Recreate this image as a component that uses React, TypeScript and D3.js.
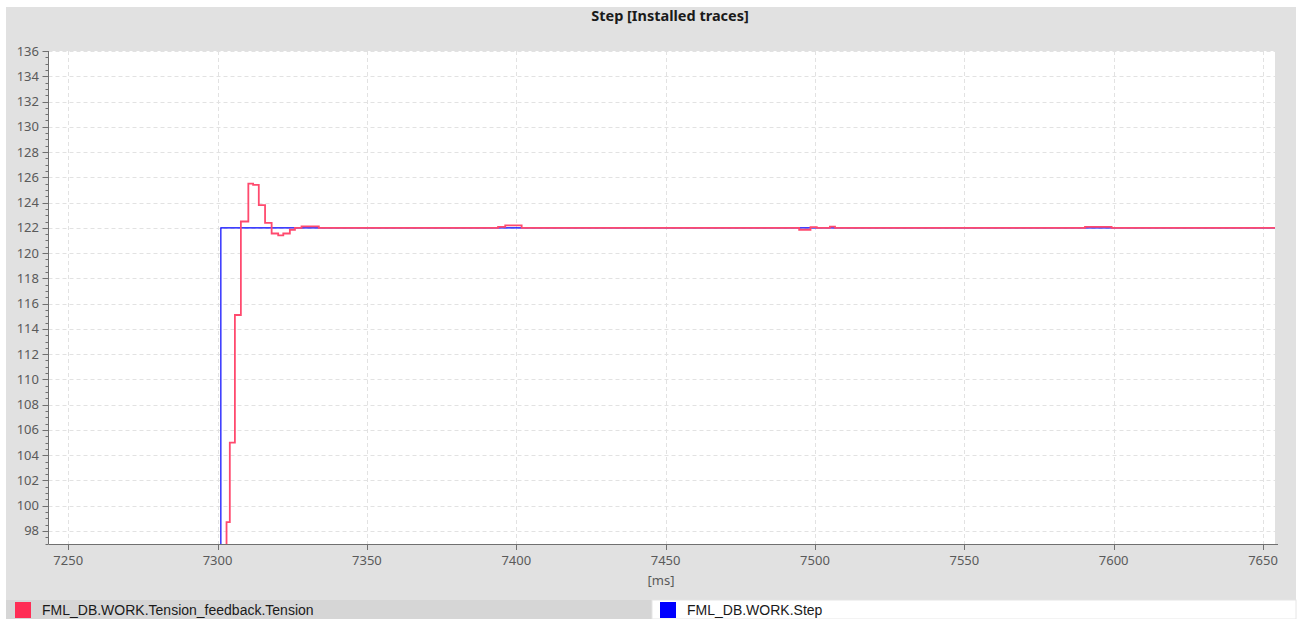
import React from "react";
import * as d3 from "d3";

const W = 1304;
const H = 619;

const title = "Step [Installed traces]";
const xAxisLabel = "[ms]";
const xDomain = [7243.4, 7654];
const yDomain = [96.97, 136];
const xTicks = [7250, 7300, 7350, 7400, 7450, 7500, 7550, 7600, 7650];
const yTicks = [98, 100, 102, 104, 106, 108, 110, 112, 114, 116, 118, 120, 122, 124, 126, 128, 130, 132, 134, 136];

const seriesNames = ["FML_DB.WORK.Tension_feedback.Tension", "FML_DB.WORK.Step"];
const seriesColors = ["#ff2d55", "#0000ff"];

// Tension feedback (step-after samples: [time ms, value])
const tensionTimes = [7243.4, 7303.0, 7304.1, 7305.8, 7307.8, 7310.3, 7311.9, 7313.8, 7315.9, 7318.1, 7320.3, 7322.0, 7324.2, 7325.9, 7328.1, 7333.9, 7393.9, 7396.3, 7401.8, 7494.7, 7498.5, 7500.6, 7505.0, 7506.7, 7590.4, 7599.3, 7654];
const tensionValues = [0, 98.7, 105.0, 115.1, 122.5, 125.5, 125.4, 123.8, 122.4, 121.55, 121.4, 121.55, 121.85, 122.0, 122.12, 122.0, 122.07, 122.2, 122.0, 121.85, 122.05, 122.0, 122.1, 122.0, 122.08, 122.0, 122.0];

// Step setpoint
const stepTimes = [7243.4, 7301.1, 7654];
const stepValues = [0, 122, 122];

const M = { left: 48.5, right: 1275, top: 51, bottom: 544 };

export default function App() {
  const x = d3.scaleLinear().domain(xDomain).range([M.left, M.right]);
  const y = d3.scaleLinear().domain(yDomain).range([M.bottom, M.top]);
  const line = d3
    .line<[number, number]>()
    .x((d) => x(d[0]))
    .y((d) => y(d[1]))
    .curve(d3.curveStepAfter);

  const tension: [number, number][] = tensionTimes.map((t, i) => [t, tensionValues[i]]);
  const step: [number, number][] = stepTimes.map((t, i) => [t, stepValues[i]]);

  const minorYTicks = d3.range(97, 136.01, 0.5);

  const font = "'Noto Sans', 'DejaVu Sans', sans-serif";
  const legendFont = "'Liberation Sans', Arial, sans-serif";

  return (
    <svg
      width={W}
      height={H}
      style={{ position: "absolute", left: 0, top: 0, display: "block" }}
      fontFamily={font}
    >
      <rect x={0} y={0} width={W} height={H} fill="#ffffff" />
      <rect x={6} y={7} width={1290} height={593} fill="#e1e1e1" />
      <text x={670} y={21} textAnchor="middle" fontSize={14.5} fontWeight="bold" fill="#1a1a1a">
        {title}
      </text>
      <defs>
        <clipPath id="plotclip">
          <rect x={M.left} y={M.top} width={M.right - M.left} height={M.bottom - M.top} />
        </clipPath>
      </defs>
      <rect x={M.left} y={M.top} width={M.right - M.left} height={M.bottom - M.top} fill="#ffffff" />
      {/* grid */}
      <g stroke="#e2e2e2" strokeWidth={1} strokeDasharray="4,3">
        {yTicks.map((v) => (
          <line key={"gy" + v} x1={M.left} x2={M.right} y1={Math.round(y(v)) + 0.5} y2={Math.round(y(v)) + 0.5} />
        ))}
        {xTicks.map((v) => (
          <line key={"gx" + v} x1={Math.round(x(v)) + 0.5} x2={Math.round(x(v)) + 0.5} y1={M.top} y2={M.bottom} />
        ))}
      </g>
      {/* series */}
      <g clipPath="url(#plotclip)" fill="none">
        <path d={line(step) || ""} stroke={seriesColors[1]} strokeWidth={1.2} />
        <path d={line(tension) || ""} stroke="#ff4a6e" strokeWidth={1.8} />
      </g>
      {/* axes */}
      <g stroke="#707070" strokeWidth={1}>
        <line x1={M.left} x2={M.left} y1={M.top} y2={M.bottom} />
        {minorYTicks.map((v) => (
          <line
            key={"my" + v}
            x1={M.left - (v % 2 === 0 ? 6 : 3)}
            x2={M.left}
            y1={Math.round(y(v)) + 0.5}
            y2={Math.round(y(v)) + 0.5}
          />
        ))}
        <line x1={M.left} x2={M.right + 3} y1={M.bottom + 0.5} y2={M.bottom + 0.5} />
        {xTicks.map((v) => (
          <line key={"tx" + v} x1={Math.round(x(v)) + 0.5} x2={Math.round(x(v)) + 0.5} y1={M.bottom} y2={M.bottom + 6} />
        ))}
      </g>
      <g fontSize={13} fill="#5a5a5a">
        {yTicks.map((v) => (
          <text key={"ly" + v} x={39} y={y(v) + 4.5} textAnchor="end">
            {v}
          </text>
        ))}
        {xTicks.map((v) => (
          <text key={"lx" + v} x={x(v)} y={565} textAnchor="middle">
            {v}
          </text>
        ))}
        <text x={661} y={585} textAnchor="middle">
          {xAxisLabel}
        </text>
      </g>
      {/* legend */}
      <rect x={6} y={600} width={646} height={19} fill="#d6d6d6" />
      <rect x={652} y={600} width={644} height={19} fill="#ffffff" stroke="#e6e6e6" />
      <rect x={15} y={602} width={16} height={16} fill={seriesColors[0]} />
      <text x={42} y={615} fontSize={14} fontFamily={legendFont} fill="#1a1a1a">
        {seriesNames[0]}
      </text>
      <rect x={660} y={602} width={16} height={16} fill={seriesColors[1]} />
      <text x={687} y={615} fontSize={14} fontFamily={legendFont} fill="#1a1a1a">
        {seriesNames[1]}
      </text>
    </svg>
  );
}
